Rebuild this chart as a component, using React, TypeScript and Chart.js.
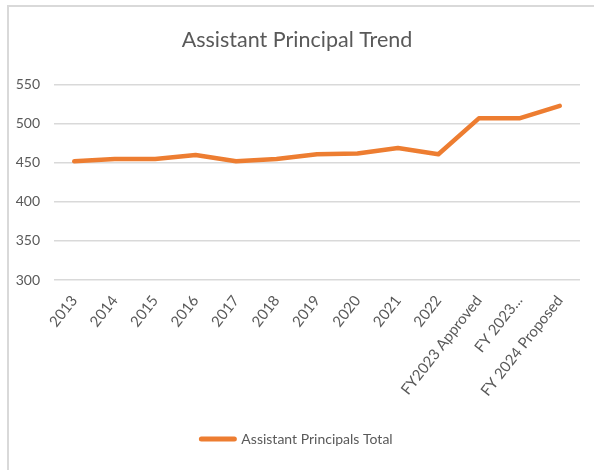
import React, { useEffect, useRef } from "react";
import { Chart, registerables } from "chart.js";

Chart.register(...registerables);

const categories = [
  "2013", "2014", "2015", "2016", "2017", "2018", "2019", "2020", "2021", "2022",
  "FY2023 Approved", "FY 2023...", "FY 2024 Proposed",
];
const assistantPrincipalsTotal = [452, 455, 455, 460, 452, 455, 461, 462, 469, 461, 507, 507, 523];
const yTicks = { min: 300, max: 550, step: 50 };
const chartTitle = "Assistant Principal Trend";
const seriesName = "Assistant Principals Total";

const FONT = "Lato, 'Open Sans', sans-serif";
const TEXT = "#595959";
const ORANGE = "#ED7D31";

export default function App() {
  const ref = useRef<HTMLCanvasElement | null>(null);

  useEffect(() => {
    if (!ref.current) return;
    const chart = new Chart(ref.current, {
      type: "line",
      data: {
        labels: categories,
        datasets: [
          {
            label: seriesName,
            data: assistantPrincipalsTotal,
            borderColor: ORANGE,
            backgroundColor: ORANGE,
            borderWidth: 4.5,
            pointRadius: 0,
            pointHoverRadius: 0,
            tension: 0,
            borderCapStyle: "round",
            borderJoinStyle: "round",
          },
        ],
      },
      options: {
        animation: false,
        responsive: false,
        maintainAspectRatio: false,
        layout: { padding: { left: 8, right: 14, top: 27, bottom: 14 } },
        plugins: {
          title: {
            display: true,
            text: chartTitle,
            color: TEXT,
            font: { family: FONT, size: 21.5, weight: "normal" },
            padding: { top: 0, bottom: 32 },
          },
          legend: {
            position: "bottom",
            labels: {
              color: TEXT,
              font: { family: FONT, size: 14 },
              usePointStyle: true,
              pointStyle: "line",
              pointStyleWidth: 33,
              boxHeight: 5,
              padding: 10,
              generateLabels: (c: any) => {
                const items = Chart.defaults.plugins.legend.labels.generateLabels(c);
                return items.map((it: any) => ({
                  ...it,
                  pointStyle: "line",
                  lineWidth: 5,
                  lineCap: "round",
                  fillStyle: ORANGE,
                  strokeStyle: ORANGE,
                }));
              },
            },
          },
          tooltip: { enabled: false },
        },
        scales: {
          x: {
            offset: true,
            grid: { display: false, drawTicks: false },
            border: { display: false },
            ticks: {
              color: TEXT,
              font: { family: FONT, size: 15 },
              minRotation: 52,
              maxRotation: 52,
              autoSkip: false,
              padding: 12,
            },
            afterFit: (axis: any) => {
              axis.height = 142;
            },
          },
          y: {
            min: yTicks.min,
            max: yTicks.max,
            grid: { color: "#d9d9d9", lineWidth: 1.5, drawTicks: false },
            border: { display: false },
            ticks: {
              stepSize: yTicks.step,
              color: TEXT,
              font: { family: FONT, size: 14 },
              padding: 14,
            },
            afterFit: (axis: any) => {
              axis.width = 40;
            },
          },
        },
      },
    });
    return () => chart.destroy();
  }, []);

  return (
    <div style={{ position: "absolute", left: 0, top: 0, width: 594, height: 470, background: "#fff" }}>
      <div
        style={{
          position: "absolute",
          left: 7,
          top: 5,
          right: 0,
          bottom: 0,
          borderLeft: "2px solid #d9d9d9",
          borderTop: "2px solid #d9d9d9",
        }}
      />
      <canvas ref={ref} width={588} height={470} style={{ position: "absolute", left: 6, top: 0 }} />
    </div>
  );
}
